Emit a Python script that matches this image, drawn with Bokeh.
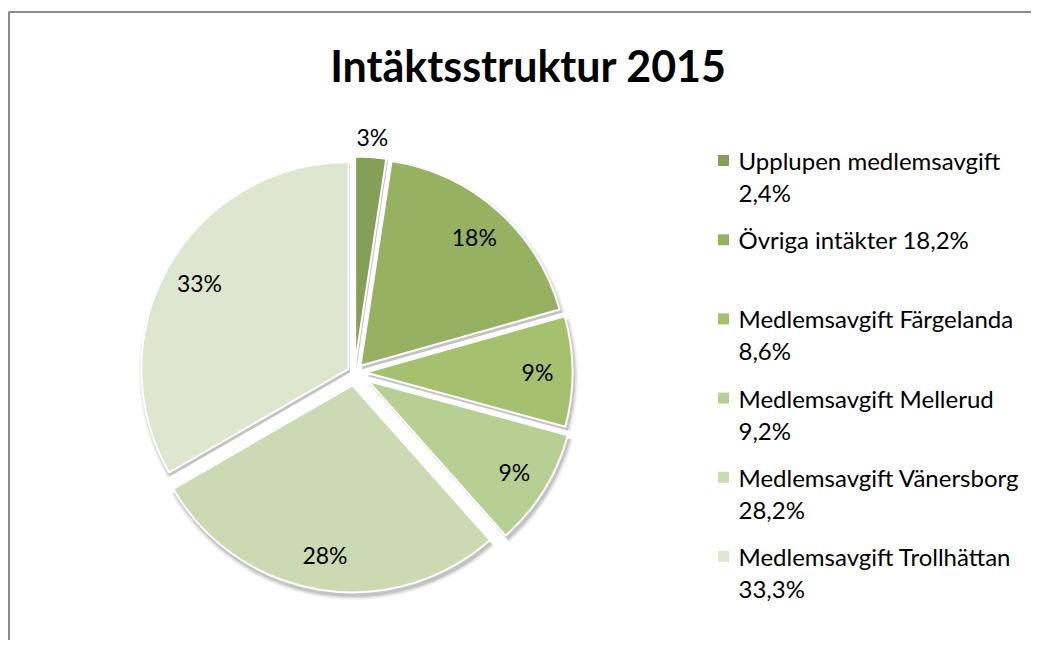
import numpy as np
from bokeh.plotting import figure
from bokeh.models import ColumnDataSource
from bokeh.core.properties import value
from bokeh.embed import file_html
from bokeh.resources import INLINE

# ---------------- data ----------------
title_text = "Intäktsstruktur 2015"
categories = ["Upplupen medlemsavgift", "Övriga intäkter",
              "Medlemsavgift Färgelanda", "Medlemsavgift Mellerud",
              "Medlemsavgift Vänersborg", "Medlemsavgift Trollhättan"]
values = [2.4, 18.2, 8.6, 9.2, 28.2, 33.3]
pct_labels = ["3%", "18%", "9%", "9%", "28%", "33%"]

# ---------------- style ----------------
colors = ["#83A056", "#97B163", "#A5C06E", "#B7CF92", "#CBDAB2", "#DDE7CF"]
explode = [9, 9, 11, 16, 13, 7]          # px offset of each slice
label_r = [227, 172, 172, 172, 172, 172]  # px distance of label from slice tip
legend_wrap = [True, False, True, True, True, True]
FONT = "Lato"

W, H = 1031, 640
def dx(sx): return sx
def dy(sy): return H - sy

p = figure(width=W, height=H, x_range=(0, W), y_range=(0, H),
           x_axis_type=None, y_axis_type=None, toolbar_location=None,
           output_backend="svg", min_border=0)
p.outline_line_color = None
p.grid.visible = False
p.background_fill_color = "white"
p.border_fill_color = "white"

# chart frame (left & top border visible)
p.line([dx(8.5), dx(8.5), W + 5], [-5, dy(11.5), dy(11.5)], line_color="#8C8C8C", line_width=2)

# title
p.text([dx(528)], [dy(65)], text=[title_text], text_font=value(FONT), text_font_style="bold",
       text_font_size="43px", text_align="center", text_baseline="middle", text_color="black")

# pie geometry
cx, cy, R = dx(354), dy(372), 207
vals = np.array(values, dtype=float)
frac = vals / vals.sum()
cum_end = np.cumsum(frac)
cum_start = cum_end - frac
th0 = cum_start * 2 * np.pi           # clockwise from 12 o'clock
th1 = cum_end * 2 * np.pi
thm = (th0 + th1) / 2
ex = np.array(explode, dtype=float)
wx = cx + ex * np.sin(thm)
wy = cy + ex * np.cos(thm)
start = np.pi / 2 - th1
end = np.pi / 2 - th0

src = ColumnDataSource(dict(x=wx, y=wy, start=start, end=end, color=colors,
                            sx=wx + 1.5, sy=wy - 3.5))

# soft shadow
for rr, a in [(R + 4, 0.05), (R + 2.5, 0.08), (R + 1, 0.12)]:
    p.wedge(x="sx", y="sy", radius=rr, start_angle="start", end_angle="end",
            fill_color="#000000", fill_alpha=a, line_color=None, source=src)

p.wedge(x="x", y="y", radius=R, start_angle="start", end_angle="end",
        fill_color="color", line_color="white", line_width=2, source=src)

# data labels
lr = np.array(label_r, dtype=float)
lx = wx + lr * np.sin(thm)
ly = wy + lr * np.cos(thm)
p.text(x=lx, y=ly, text=pct_labels, text_font=value(FONT), text_font_size="23px",
       text_align="center", text_baseline="middle", text_color="black")

# legend
leg_y0, leg_step, line2 = dy(160), 79.2, 32
sq_x, txt_x = dx(723), dx(738)
ly_rows = leg_y0 - leg_step * np.arange(len(categories))
p.rect(x=[sq_x] * len(categories), y=ly_rows, width=11, height=11,
       fill_color=colors, line_color=None)
t_x, t_y, t_txt = [], [], []
for i, (c, v) in enumerate(zip(categories, values)):
    pct = f"{v:.1f}".replace(".", ",") + "%"
    if legend_wrap[i]:
        t_x += [txt_x, txt_x]; t_y += [ly_rows[i], ly_rows[i] - line2]; t_txt += [c, pct]
    else:
        t_x.append(txt_x); t_y.append(ly_rows[i]); t_txt.append(f"{c} {pct}")
p.text(x=t_x, y=t_y, text=t_txt, text_font=value(FONT), text_font_size="24px",
       text_align="left", text_baseline="middle", text_color="black")

open("out.html", "w").write(file_html(p, INLINE))
